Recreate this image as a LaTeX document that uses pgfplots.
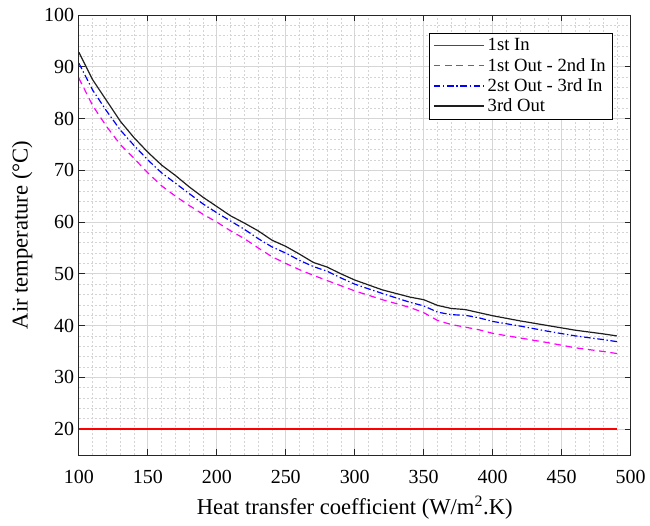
\documentclass[border=0pt]{standalone}
\usepackage{fontspec}
\setmainfont{Liberation Serif}
\usepackage{pgfplots}
\pgfplotsset{compat=1.18}
\definecolor{axgray}{RGB}{38,38,38}
\definecolor{cred}{RGB}{255,0,0}
\definecolor{cmag}{RGB}{255,0,255}
\definecolor{cblue}{RGB}{0,0,255}
\definecolor{cblack}{RGB}{30,30,30}
\begin{document}
\begin{tikzpicture}
\begin{axis}[
  scale only axis, width=414.75pt, height=330.75pt,
  xmin=100, xmax=500, ymin=15, ymax=100,
  xtick={100,150,...,500}, ytick={20,30,...,100},
  minor x tick num=4, minor y tick num=4,
  grid=both,
  major grid style={black!16, line width=0.5pt},
  minor grid style={black!17, dash pattern=on 1.5pt off 1.5pt, line width=0.4pt},
  axis line style={axgray, line width=0.5pt},
  tick style={axgray, line width=0.5pt},
  tick align=inside, major tick length=4.5pt, minor tick length=0pt,
  xtick pos=both, ytick pos=both,
  /pgf/number format/assume math mode=true,
  /pgf/number format/1000 sep={},
  tick label style={font=\fontsize{15}{18}\selectfont},
  xticklabel style={yshift=-8pt},
  label style={font=\fontsize{17}{20}\selectfont},
  xlabel={Heat transfer coefficient (W/m\textsuperscript{2}.K)},
  ylabel={Air temperature (°C)},
  xlabel style={yshift=-2pt},
  ylabel style={yshift=2pt},
  legend style={at={(rel axis cs:1,1)}, anchor=north east, xshift=-13.5pt, yshift=-13.5pt,
    font=\fontsize{14}{16.5}\selectfont, draw=black, line width=0.5pt, fill=white,
    inner xsep=3pt, inner ysep=2pt, row sep=0pt},
  legend cell align=left,
  legend image code/.code={\draw[#1, line width=1.1pt] (0pt,0pt) -- (38pt,0pt);},
]
\addplot[draw=cred, line width=1pt] coordinates {(100,20) (490,20)};
\addlegendentry{1st In}
\addplot[draw=cmag, line width=0.9pt, dash pattern=on 5pt off 3.5pt] coordinates {
(100,87.8) (110,82.5) (120,78.5) (130,75.0) (140,72.3) (150,69.5) (160,67.0) (170,65.0)
(180,63.2) (190,61.5) (200,60.0) (210,58.3) (220,56.8) (230,55.0) (240,53.3) (250,52.0)
(260,50.8) (270,49.7) (280,48.7) (290,47.7) (300,46.7) (320,45.0) (340,43.5) (350,42.5)
(360,41.0) (370,40.2) (380,39.7) (390,39.2) (400,38.5) (420,37.6) (440,36.7) (460,35.7)
(480,35.0) (490,34.6)};
\addlegendentry{1st Out - 2nd In}
\addplot[draw=cblue, line width=0.9pt, dash pattern=on 5pt off 2pt on 1pt off 2pt] coordinates {
(100,90.7) (110,85.5) (120,81.5) (130,77.8) (140,74.8) (150,72.0) (160,69.5) (170,67.5)
(180,65.5) (190,63.5) (200,61.8) (210,60.2) (220,58.6) (230,56.8) (240,55.2) (250,54.0)
(260,52.6) (270,51.4) (280,50.5) (290,49.2) (300,48.0) (320,46.2) (340,44.5) (350,43.8)
(360,42.6) (370,42.1) (380,42.0) (390,41.5) (400,40.8) (420,39.9) (440,38.9) (460,38.0)
(480,37.3) (490,36.9)};
\addlegendentry{2st Out - 3rd In}
\addplot[draw=cblack, line width=0.9pt] coordinates {
(100,92.8) (110,87.5) (120,83.5) (130,79.5) (140,76.3) (150,73.5) (160,71.0) (170,69.0)
(180,66.8) (190,64.8) (200,63.0) (210,61.2) (220,59.8) (230,58.3) (240,56.5) (250,55.3)
(260,53.8) (270,52.2) (280,51.3) (290,50.0) (300,48.8) (320,46.9) (340,45.5) (350,45.0)
(360,43.9) (370,43.3) (380,43.1) (390,42.5) (400,41.9) (420,40.9) (440,40.0) (460,39.1)
(480,38.4) (490,38.0)};
\addlegendentry{3rd Out}
\end{axis}
\path (current axis.south west) ++(-59.25pt,-53.25pt) coordinate (bbA);
\path (current axis.north east) ++(13.5pt,11.25pt) coordinate (bbB);
\path (bbA) rectangle (bbB);
\end{tikzpicture}
\end{document}
